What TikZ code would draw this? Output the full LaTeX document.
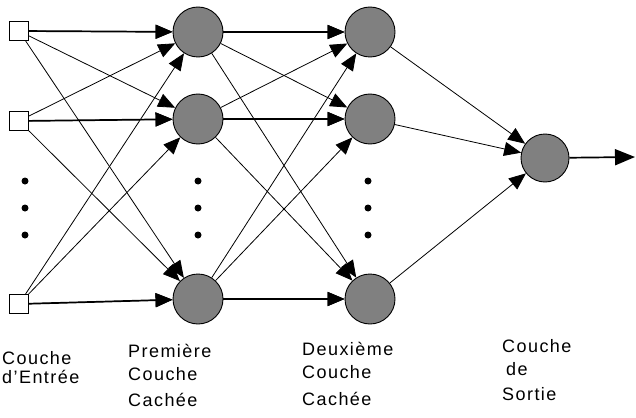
\documentclass[tikz,border=0pt]{standalone}
\usepackage{fontspec}
\setmainfont[LetterSpace=8]{Liberation Sans}
\usetikzlibrary{arrows.meta}

\begin{document}
\begin{tikzpicture}[x=1pt, y=-1pt,
    unit/.style={circle, draw, minimum size=50pt, inner sep=0pt, line width=0.9pt, fill=gray},
    inp/.style={rectangle, draw, minimum size=19pt, inner sep=0pt, line width=0.9pt, fill=white},
    arr/.style={-{Triangle[length=17pt 0 0, width=14pt 0 0]}, line width=0.8pt},
    harr/.style={arr, line width=1.7pt},
    dot/.style={circle, fill=black, minimum size=7pt, inner sep=0pt},
    labl/.style={anchor=base west, inner sep=0pt, font=\fontsize{18}{20}\selectfont}
  ]
  \useasboundingbox (0,0) rectangle (636,417);

  %% Layer positions (x-coords)
  \def\xI{19}
  \def\xH{198}
  \def\xHH{370}
  \def\xO{545}

  %% Input layer
  \foreach \y/\name in {31/x1, 121/x2, 304/x3}{
    \node[inp] (\name) at (\xI, \y) {};
  }
  \foreach \y/\name in {181/xd1, 208/xd2, 235/xd3}{
    \node[dot] (\name) at (\xI+6, \y) {};
  }

  %% Hidden layer 1
  \foreach \y/\name in {32/h11, 119/h12, 299/h13}{
    \node[unit] (\name) at (\xH, \y) {};
  }
  \foreach \y/\name in {181/hd11, 208/hd12, 235/hd13}{
    \node[dot] (\name) at (\xH, \y) {};
  }

  %% Hidden layer 2
  \foreach \y/\name in {32/h21, 119/h22, 299/h23}{
    \node[unit] (\name) at (\xHH, \y) {};
  }
  \foreach \y/\name in {181/hd21, 208/hd22, 235/hd23}{
    \node[dot] (\name) at (\xHH-2, \y) {};
  }

  %% Output layer
  \node[unit, minimum size=48pt] (o1) at (\xO, 158) {};
  \coordinate (out) at (635, 157);

  %% Connections Input -> H1
  \foreach \s/\t in {x1/h11, x2/h12, x3/h13}{
    \draw[harr] (\s) -- (\t);
  }
  \foreach \s in {x1, x2, x3}{
    \foreach \t in {h11, h12, h13}{
      \draw[arr] (\s) -- (\t);
    }
  }

  %% Connections H1 -> H2
  \foreach \s/\t in {h11/h21, h12/h22, h13/h23}{
    \draw[harr] (\s) -- (\t);
  }
  \foreach \s in {h11, h12, h13}{
    \foreach \t in {h21, h22, h23}{
      \draw[arr] (\s) -- (\t);
    }
  }

  %% Connections H2 -> Output
  \foreach \s in {h21, h22, h23}{
    \draw[arr] (\s) -- (o1);
  }
  \draw[harr, -{Triangle[length=20pt 0 0, width=16pt 0 0]}] (o1) -- (out);

  %% Layer labels
  \node[labl] (lI1) at (2, 364) {Couche};
  \node[labl] (lI2) at (2, 383) {d'Entrée};
  \node[labl] (lH1) at (128, 357) {Première};
  \node[labl] (lH2) at (128, 380) {Couche};
  \node[labl] (lH3) at (128, 406) {Cachée};
  \node[labl] (lHH1) at (302, 355) {Deuxième};
  \node[labl] (lHH2) at (302, 378) {Couche};
  \node[labl] (lHH3) at (302, 405) {Cachée};
  \node[labl] (lO1) at (502, 352) {Couche};
  \node[labl] (lO2) at (506, 375) {de};
  \node[labl] (lO3) at (502, 400) {Sortie};

\end{tikzpicture}
\end{document}
